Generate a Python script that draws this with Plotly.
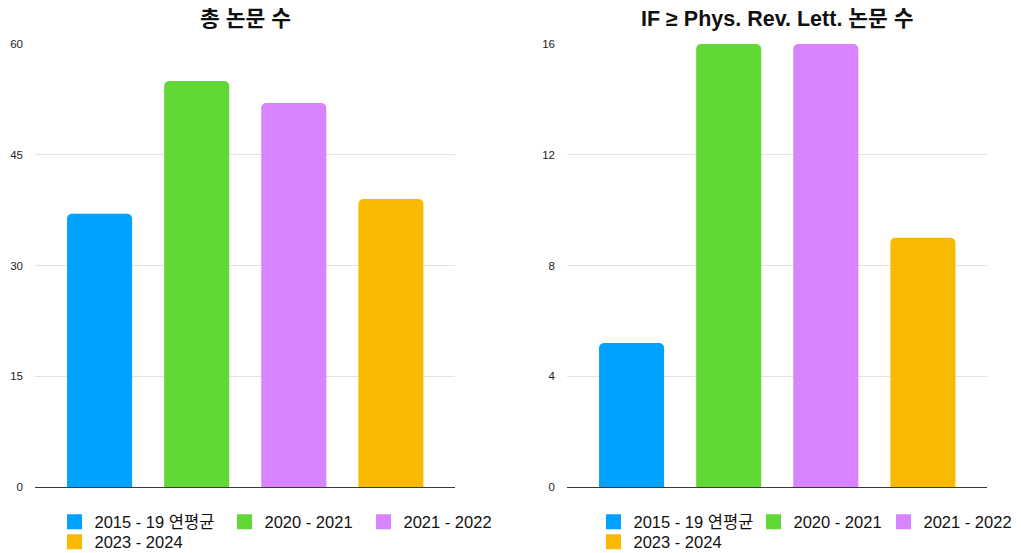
import plotly.graph_objects as go

categories = ["2015 - 19 연평균", "2020 - 2021", "2021 - 2022", "2023 - 2024"]
total_papers = [37, 55, 52, 39]
prl_papers = [5.2, 16, 16, 9]
colors = ["#00A2FF", "#61D836", "#D883FF", "#F8BA00"]
titles = ["총 논문 수", "IF ≥ Phys. Rev. Lett. 논문 수"]
left_ticks = [0, 15, 30, 45, 60]
right_ticks = [0, 4, 8, 12, 16]

W, H = 1021, 553
FONT = "Liberation Sans, Arial, Noto Sans CJK KR, sans-serif"
OFF = 8  # page body margin offset

def px_x(p):
    return (p - OFF) / W

def px_y(p):
    return 1 - (p - OFF) / H

fig = go.Figure()

for i, cat in enumerate(categories):
    fig.add_trace(go.Bar(
        x=[cat], y=[total_papers[i]], name=cat, showlegend=False,
        marker=dict(color=colors[i], line=dict(width=0)),
        xaxis="x", yaxis="y", hoverinfo="x+y",
    ))
for i, cat in enumerate(categories):
    fig.add_trace(go.Bar(
        x=[cat], y=[prl_papers[i]], name=cat, showlegend=False,
        marker=dict(color=colors[i], line=dict(width=0)),
        xaxis="x2", yaxis="y2", hoverinfo="x+y",
    ))

# legend entries (square swatches), one legend per entry so each sits where the reference puts it
legend_slots_left = [(67, 521.5), (237, 521.5), (376, 521.5), (67, 541.5)]
legend_slots_right = [(606, 521.5), (766, 521.5), (896, 521.5), (606, 541.5)]
leg_common = dict(orientation="h", xref="paper", yref="paper",
                  xanchor="left", yanchor="middle", bgcolor="rgba(0,0,0,0)",
                  font=dict(family=FONT, size=16.5, color="#111"))
legend_layout = {}
n = 0
for side, slots, xa, ya in [("l", legend_slots_left, "x", "y"), ("r", legend_slots_right, "x2", "y2")]:
    for i, cat in enumerate(categories):
        n += 1
        key = "legend" if n == 1 else "legend%d" % n
        fig.add_trace(go.Scatter(
            x=[None], y=[None], mode="markers", name=cat, legend=key,
            marker=dict(symbol="square", size=15, color=colors[i]),
            xaxis=xa, yaxis=ya, hoverinfo="skip",
        ))
        sx, sy = slots[i]
        legend_layout[key] = dict(x=(sx - 20.5) / W, y=1 - (sy - 7.5) / H, **leg_common)

ydom = [px_y(487), px_y(44)]
axis_common = dict(
    showgrid=True, gridcolor="#E2E2E2", gridwidth=1,
    zeroline=True, zerolinecolor="#3A3A3A", zerolinewidth=1,
    showline=False, ticks="", ticklabelstandoff=11,
    tickfont=dict(family=FONT, size=11.5, color="#222"),
    fixedrange=True,
)
xcommon = dict(showgrid=False, zeroline=False, showticklabels=False, showline=False,
               ticks="", range=[-0.665, 3.66], fixedrange=True,
               categoryorder="array", categoryarray=categories)

fig.update_layout(
    width=W, height=H,
    margin=dict(l=0, r=0, t=0, b=0, autoexpand=False),
    paper_bgcolor="white", plot_bgcolor="white",
    barmode="overlay", bargap=0.33, barcornerradius=5,
    font=dict(family=FONT, color="#111"),
    xaxis=dict(domain=[px_x(35), px_x(455)], anchor="y", **xcommon),
    yaxis=dict(domain=ydom, anchor="x", range=[0, 60], tickvals=left_ticks, **axis_common),
    xaxis2=dict(domain=[px_x(567), px_x(987)], anchor="y2", **xcommon),
    yaxis2=dict(domain=ydom, anchor="x2", range=[0, 16], tickvals=right_ticks, **axis_common),
    showlegend=True,
    **legend_layout,
)

for t, cx in zip(titles, [245, 777]):
    fig.add_annotation(
        text="<b>" + t + "</b>", x=px_x(cx), y=px_y(19), xref="paper", yref="paper",
        xanchor="center", yanchor="middle", showarrow=False, borderpad=0,
        font=dict(family=FONT, size=21.5, color="#111"),
    )

fig.write_html("out.html")
